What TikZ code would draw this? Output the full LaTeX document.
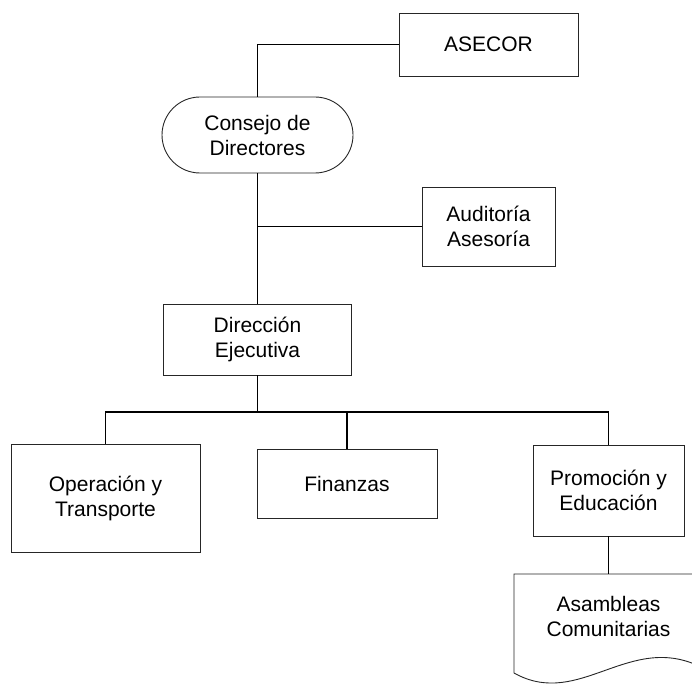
\documentclass[tikz,border=0pt]{standalone}
\usepackage{fontspec}
\setmainfont{Liberation Sans}
\begin{document}
\begin{tikzpicture}[x=1pt,y=-1pt,
  box/.style={draw=black!85, line width=0.9pt, rectangle, inner sep=0pt, align=center, font=\fontsize{21}{25}\selectfont},
  lbl/.style={inner sep=0pt, align=center, font=\fontsize{21}{25}\selectfont},
  link/.style={line width=1.8pt}]
\useasboundingbox (0,0) rectangle (692,684);
\clip (0,0) rectangle (692,684);
\node[box, minimum width=179pt, minimum height=63pt] (asecor) at (488.5,44.5) {ASECOR};
\node[box, rounded corners=38pt, minimum width=191pt, minimum height=76pt] (consejo) at (257.5,135) {Consejo de\\Directores};
\node[box, minimum width=133pt, minimum height=79pt] (audit) at (488.5,226.5) {Auditoría\\Asesoría};
\node[box, minimum width=188pt, minimum height=71pt] (dir) at (257.5,339.5) {Dirección\\Ejecutiva};
\node[box, minimum width=189pt, minimum height=108pt] (oper) at (105.5,498) {Operación y\\Transporte};
\node[box, minimum width=180pt, minimum height=69pt] (fin) at (347,483.5) {Finanzas};
\node[box, minimum width=151pt, minimum height=91pt] (prom) at (608.5,490.5) {Promoción y\\Educación};
% document shape
\draw[draw=black!85, line width=0.9pt] (514,673) -- (514,574) -- (703,574) -- (703,668)
  .. controls (630,630) and (580,710) .. (514,673);
\coordinate (asamtop) at (608.5,574);
\node[lbl] (asam) at (608.5,616) {Asambleas\\Comunitarias};
% connectors
\coordinate (bus) at (257.5,412);
\draw[link] (asecor.west) -| (consejo.north);
\draw[link] (consejo.south) -- (dir.north);
\draw[link] (consejo.south |- audit.west) -- (audit.west);
\draw[link] (dir.south) -- (bus);
\draw[link] (oper.north) |- (prom.north |- bus) -- (prom.north);
\draw[link] (fin.north) -- (fin.north |- bus);
\draw[link] (prom.south) -- (asamtop);
\end{tikzpicture}
\end{document}
